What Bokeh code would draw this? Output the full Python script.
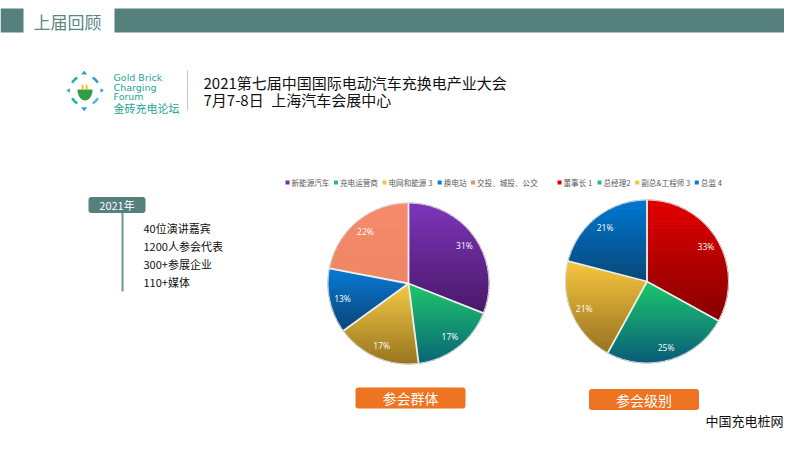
import numpy as np
from bokeh.plotting import figure
from bokeh.models import Range1d
from bokeh.core.properties import value
from bokeh.embed import file_html
from bokeh.resources import INLINE

# ---------------- data ----------------
header_title = "上届回顾"
event_title = "2021第七届中国国际电动汽车充换电产业大会"
event_sub = "7月7-8日\u2002上海汽车会展中心"
logo_lines = ["Gold Brick", "Charging", "Forum", "金砖充电论坛"]
year_label = "2021年"
highlights = ["40位演讲嘉宾", "1200人参会代表", "300+参展企业", "110+媒体"]

group_labels = ["新能源汽车", "充电运营商", "电网和能源 3", "换电站", "交投、城投、公交"]
group_values = [31, 17, 17, 13, 22]

level_labels = ["董事长 1", "总经理2", "副总&工程师 3", "总监 4"]
level_values = [33, 25, 21, 21]

chart_titles = ["参会群体", "参会级别"]
source_label = "中国充电桩网"

# ---------------- styles ----------------
CJK = value("Noto Sans CJK SC")
TEAL = "#55807b"
ORANGE = "#ee7421"

group_top = ["#7d36ba", "#1fc86c", "#f7ca48", "#0a7cd8", "#f58b6c"]
group_bot = ["#4a196a", "#0b6578", "#98761f", "#0b4576", "#ef8664"]
group_key = ["#7030a0", "#1fc472", "#f5c342", "#0b78d0", "#f4896a"]

level_top = ["#e30000", "#1cc96d", "#f7c740", "#0078d2"]
level_bot = ["#860000", "#0b5c7a", "#977320", "#0a4878"]
level_key = ["#e00000", "#1fc472", "#f5c342", "#0b78d0"]

W, H = 784, 434
p = figure(width=W, height=H, x_range=Range1d(0, W), y_range=Range1d(H, 0),
           output_backend="svg", toolbar_location=None, min_border=0,
           x_axis_location=None, y_axis_location=None)
p.grid.visible = False
p.outline_line_color = None
p.background_fill_color = "white"
p.border_fill_color = "white"


def mix(c1, c2, t):
    a = [int(c1[i:i + 2], 16) for i in (1, 3, 5)]
    b = [int(c2[i:i + 2], 16) for i in (1, 3, 5)]
    return "#%02x%02x%02x" % tuple(int(round(a[k] + (b[k] - a[k]) * t)) for k in range(3))


def clip_half(pts, yc, keep_ge):
    out = []
    n = len(pts)
    for i in range(n):
        P = pts[i]
        Q = pts[(i + 1) % n]
        pin = P[1] >= yc if keep_ge else P[1] <= yc
        qin = Q[1] >= yc if keep_ge else Q[1] <= yc
        if pin:
            out.append(P)
        if pin != qin:
            t = (yc - P[1]) / (Q[1] - P[1])
            out.append((P[0] + t * (Q[0] - P[0]), yc))
    return out


def est_w(s, fs):
    w = 0
    for c in s:
        if ord(c) > 0x2e80:
            w += fs
        elif c == " ":
            w += 0.3 * fs
        else:
            w += 0.58 * fs
    return w


def draw_pie(cx, cy, r, values, tops, bots):
    total = float(sum(values))
    ang = np.concatenate([[0.0], np.cumsum(values)]) / total * 2 * np.pi
    bx, by, bc = [], [], []
    for i in range(len(values)):
        a0, a1 = ang[i], ang[i + 1]
        t = np.linspace(a0, a1, max(10, int((a1 - a0) * 50)))
        pts = [(cx, cy)] + [(cx + r * np.sin(a), cy - r * np.cos(a)) for a in t]
        ys = [q[1] for q in pts]
        y0, y1 = min(ys), max(ys)
        nb = 40
        h = (y1 - y0) / nb
        for k in range(nb):
            lo = y0 + k * h
            hi = lo + h + 0.7
            poly = clip_half(clip_half(pts, lo, True), hi, False)
            if len(poly) < 3:
                continue
            bx.append([q[0] for q in poly])
            by.append([q[1] for q in poly])
            bc.append(mix(tops[i], bots[i], (k + 0.5) / nb))
    p.patches(bx, by, fill_color=bc, line_color=bc, line_width=0.5)
    p.circle([cx], [cy], radius=r, fill_color=None, line_color="#d9d9d9", line_width=1)
    sa = ang[:-1]
    p.segment(x0=[cx] * len(sa), y0=[cy] * len(sa),
              x1=list(cx + r * np.sin(sa)), y1=list(cy - r * np.cos(sa)),
              line_color="#f0f0f0", line_width=1.8)
    mid = (ang[:-1] + ang[1:]) / 2
    p.text(x=list(cx + 0.84 * r * np.sin(mid)), y=list(cy - 0.84 * r * np.cos(mid)),
           text=[f"{v}%" for v in values], text_font=value("Open Sans"),
           text_font_size="8.5px", text_color="white", text_align="center",
           text_baseline="middle")


def draw_legend(x, y, labels, colors, fs=7.6, gap=4.5):
    mx, tx = [], []
    for lab in labels:
        mx.append(x + 2)
        tx.append(x + 6)
        x = x + 6 + est_w(lab, fs) + gap
    p.rect(x=mx, y=[y] * len(mx), width=4, height=4, fill_color=colors, line_color=None)
    p.text(x=tx, y=[y] * len(tx), text=labels, text_font=CJK, text_font_size=f"{fs}px",
           text_color="#595959", text_baseline="middle")


# ---------------- header ----------------
p.quad(left=[0], right=[23], top=[8], bottom=[32], fill_color=TEAL, line_color=None)
p.quad(left=[114], right=[W], top=[8], bottom=[32], fill_color=TEAL, line_color=None)
p.text(x=[33], y=[21], text=[header_title], text_font=CJK, text_font_size="17px",
       text_color="#5a8883", text_baseline="middle")

# ---------------- logo ----------------
lc = (84.5, 90)
tri_x = [[80.7, 86.7, 83.7], [80.7, 86.7, 83.7], [69.3, 69.3, 66.0], [100.0, 100.0, 103.3]]
tri_y = [[74.0, 74.0, 70.0], [106.7, 106.7, 110.7], [87.7, 92.3, 90.0], [87.7, 92.3, 90.0]]
p.patches(tri_x, tri_y, fill_color=["#22b0a2", "#3399dd", "#22b0a2", "#3399dd"], line_color=None)
arc_cols = ["#3399dd", "#5ab2ea", "#22b0a2", "#22b0a2"]
axs, ays = [], []
for k, a in enumerate([45, 135, 225, 315]):
    t = np.radians(np.linspace(a - 14, a + 14, 8))
    axs.append(list(lc[0] + 15 * np.sin(t)))
    ays.append(list(lc[1] - 15 * np.cos(t)))
p.multi_line(axs, ays, line_color=arc_cols, line_width=2.5)
cup_t = np.radians(np.linspace(90, 270, 30))
p.patch(list(lc[0] + 7.5 * np.sin(cup_t)), list(89 - 11 * np.cos(cup_t)),
        fill_color="#2f9e44", line_color=None)
p.quad(left=[81.3, 85.3], right=[83.0, 87.0], top=[84.3, 84.3], bottom=[89.5, 89.5],
       fill_color="#f5b800", line_color=None)
p.text(x=[113] * 3, y=[77, 87, 96], text=logo_lines[:3], text_font=value("DejaVu Sans"),
       text_font_size="9.5px", text_color="#26a598", text_baseline="middle")
p.text(x=[113], y=[107], text=logo_lines[3:], text_font=CJK, text_font_size="11px",
       text_color="#26a598", text_baseline="middle")
p.segment(x0=[187], y0=[70], x1=[187], y1=[110], line_color="#c4c4c4", line_width=1)
p.text(x=[203, 203], y=[82, 99], text=[event_title, event_sub], text_font=CJK,
       text_font_size="15px", text_color="#111111", text_baseline="middle")

# ---------------- left highlights ----------------
p.segment(x0=[122], y0=[212], x1=[122], y1=[291], line_color="#6e9893", line_width=2)
p.rect(x=[116.5], y=[204.5], width=57, height=16, fill_color=TEAL, line_color=None,
       border_radius=3)
p.text(x=[116.5], y=[204.5], text=[year_label], text_font=CJK, text_font_size="11px",
       text_color="white", text_align="center", text_baseline="middle")
p.text(x=[143] * len(highlights), y=[227 + 18 * i for i in range(len(highlights))],
       text=highlights, text_font=CJK, text_font_size="11px", text_color="#111111",
       text_baseline="middle")

# ---------------- pies ----------------
pie1 = (408, 283, 80.5)
pie2 = (646.5, 281, 81.5)
draw_legend(285, 182, group_labels, group_key)
draw_legend(557, 182, level_labels, level_key)
draw_pie(*pie1, group_values, group_top, group_bot)
draw_pie(*pie2, level_values, level_top, level_bot)

# ---------------- buttons ----------------
bx = [pie1[0] + 2, pie2[0] - 3]
p.rect(x=bx, y=[397.5, 399], width=110, height=21, fill_color=ORANGE, line_color=None,
       border_radius=3)
p.text(x=bx, y=[397.5, 399], text=chart_titles, text_font=CJK, text_font_size="14px",
       text_color="white", text_align="center", text_baseline="middle")

p.text(x=[783], y=[420], text=[source_label], text_font=CJK, text_font_size="13px",
       text_color="#111111", text_align="right", text_baseline="middle")

open("out.html", "w").write(file_html(p, INLINE))
